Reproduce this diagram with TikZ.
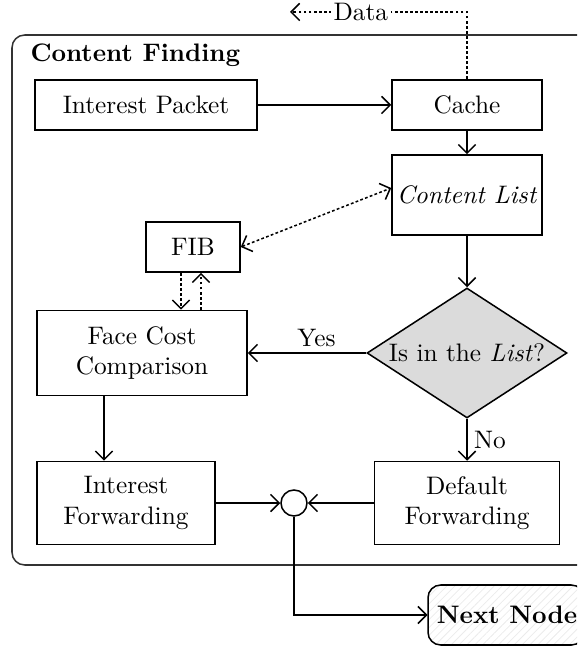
\documentclass[tikz,border=0pt]{standalone}
\usetikzlibrary{arrows.meta,shapes.geometric,patterns.meta}
\begin{document}
\def\u{0.395pt}
\begin{tikzpicture}[x=0.395pt,y=-0.395pt,
  box/.style={draw, semithick, rectangle, inner sep=0pt, align=center},
  tip/.tip={Straight Barb[length=3.4pt,width=6.8pt]},
  arr/.style={semithick, -tip},
  dots/.style={semithick, dash pattern=on 1.1pt off 0.9pt},
  dotarr/.style={dots, -tip},
  dotbiarr/.style={dots, tip-tip},
  lbl/.style={inner sep=1pt}]
\useasboundingbox (0,0) rectangle (577,647);
\begin{scope}
\clip (0,0) rectangle (577,647);

% outer group frame
\draw[semithick, black!80, rounded corners=5pt] (12,35) rectangle (600,565);
\node[anchor=west, font=\bfseries, inner sep=0pt] (title) at (30,55) {Content Finding};

% process boxes
\node[box, minimum width=222*\u, minimum height=50*\u] (ip) at (146,105) {Interest Packet};
\node[box, minimum width=150*\u, minimum height=50*\u] (cache) at (467,105) {Cache};
\node[box, minimum width=150*\u, minimum height=80*\u] (clist) at (467,195) {\textit{Content List}};
\node[box, minimum width=94*\u, minimum height=50*\u] (fib) at (193,247) {FIB};
\node[box, minimum width=210*\u, minimum height=85*\u] (fcc) at (142,353) {Face Cost\\Comparison};
\node[draw, semithick, diamond, aspect=1.54, fill=black!14, inner sep=0pt,
      minimum width=200*\u, minimum height=130*\u] (dec) at (467,353) {Is in the \textit{List}?};
\node[box, minimum width=178*\u, minimum height=83*\u] (ifw) at (126,503) {Interest\\Forwarding};
\node[box, minimum width=185*\u, minimum height=83*\u] (dfw) at (467,503) {Default\\Forwarding};
\node[draw, semithick, circle, inner sep=0pt, minimum size=26*\u] (join) at (294,503) {};
\node[draw, semithick, rounded corners=5pt, inner sep=0pt,
      pattern={Lines[angle=45,distance=2.2pt,line width=0.3pt]}, pattern color=black!8,
      minimum width=156*\u, minimum height=60*\u] (next) at (506,615) {};
\node[font=\bfseries, inner sep=0pt] (nexttext) at ([xshift=1*\u]next.center) {Next Node};

% solid connectors
\draw[arr] (ip.east) -- (cache.west);
\draw[arr] (cache.south) -- (clist.north);
\draw[arr] (clist.south) -- (dec.north);
\draw[arr] (dec.west) -- node[lbl, above, pos=0.42, yshift=1pt] {Yes} (fcc.east);
\draw[arr] (dec.south) -- node[lbl, right, pos=0.5, xshift=1.5pt] {No} (dfw.north);
\draw[arr] ([xshift=-38*\u]fcc.south) -- ([xshift=-38*\u]fcc.south |- ifw.north);
\draw[arr] (ifw.east) -- (join.west);
\draw[arr] (dfw.west) -- (join.east);
\draw[arr] (join.south) |- (next.west);

% dotted connectors
\coordinate (dataend) at (290,12);
\draw[dotarr] (cache.north) |- node[pos=0.8, fill=white, inner sep=1pt] {Data} (dataend);
\draw[dotbiarr] (fib.east) -- ([yshift=7*\u]clist.west);
\draw[dotarr] ([xshift=-12*\u]fib.south) -- ([xshift=-12*\u]fib.south |- fcc.north);
\draw[dotarr] ([xshift=8*\u]fib.south |- fcc.north) -- ([xshift=8*\u]fib.south);
\end{scope}
\end{tikzpicture}
\end{document}
